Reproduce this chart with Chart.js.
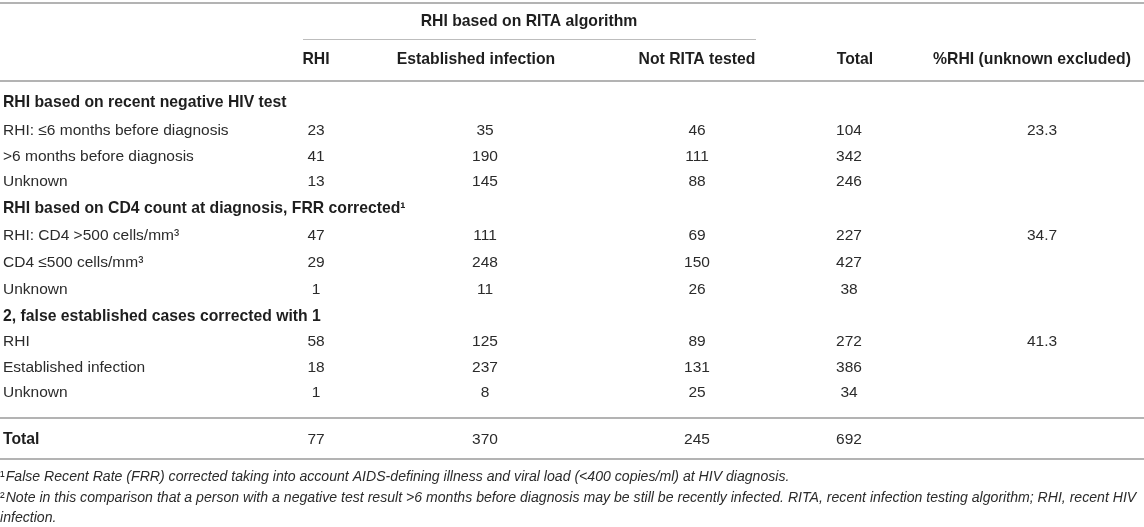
<!DOCTYPE html>
<html><head><meta charset="utf-8">
<script src="https://cdn.jsdelivr.net/npm/chart.js@4.4.1/dist/chart.umd.min.js"></script>
<style>html,body{margin:0;padding:0;background:#fff}#wrap{width:1144px;height:527px;position:relative}</style>
</head><body><div id="wrap"><canvas id="c"></canvas></div>
<script>
// ---------- DATA ----------
const spanHeader = "RHI based on RITA algorithm";
const columnHeaders = ["RHI", "Established infection", "Not RITA tested", "Total", "%RHI (unknown excluded)"];
const sectionTitles = [
  "RHI based on recent negative HIV test",
  "RHI based on CD4 count at diagnosis, FRR corrected\u00B9",
  "2, false established cases corrected with 1"
];
const rowLabels = [
  "RHI: \u22646 months before diagnosis", ">6 months before diagnosis", "Unknown",
  "RHI: CD4 >500 cells/mm\u00B3", "CD4 \u2264500 cells/mm\u00B3", "Unknown",
  "RHI", "Established infection", "Unknown"
];
const rhiValues         = [23, 41, 13, 47, 29, 1, 58, 18, 1];
const establishedValues = [35, 190, 145, 111, 248, 11, 125, 237, 8];
const notTestedValues   = [46, 111, 88, 69, 150, 26, 89, 131, 25];
const totalValues       = [104, 342, 246, 227, 427, 38, 272, 386, 34];
const pctRHIValues      = [23.3, null, null, 34.7, null, null, 41.3, null, null];
const grandTotalLabel = "Total";
const grandTotals = [77, 370, 245, 692];
const footnoteLines = [
  "\u00B9False Recent Rate (FRR) corrected taking into account AIDS-defining illness and viral load (<400 copies/ml) at HIV diagnosis.",
  "\u00B2Note in this comparison that a person with a negative test result >6 months before diagnosis may be still be recently infected. RITA, recent infection testing algorithm; RHI, recent HIV",
  "infection."
];

// ---------- LAYOUT (scale units = canvas px) ----------
const LAYOUT = {
  labelX: 3,
  colX: [316, 485, 697, 849, 1042],
  headX: [316, 476, 697, 855, 1032],
  spanX: 529, spanY: 22,
  spanLine: [303, 756, 39],
  headY: 60,
  rules: [3, 81, 418, 459],
  sectionY: [103, 209, 317],
  rowY: [131, 157, 182, 236, 263, 290, 342, 368, 393],
  totalY: 440,
  footY: [477, 498, 518]
};
const FONT = "'Liberation Sans', Arial, Helvetica, sans-serif";
const BOLD = "bold 15.75px " + FONT;
const REG = "15.5px " + FONT;
const FOOT = "14.1px " + FONT;

const tablePlugin = {
  id: 'tablePlugin',
  afterDraw(chart) {
    const ctx = chart.ctx, sx = chart.scales.x, sy = chart.scales.y;
    const X = v => sx.getPixelForValue(v), Y = v => sy.getPixelForValue(v);
    ctx.save();
    // rules
    ctx.strokeStyle = '#b3b3b3';
    ctx.lineWidth = 2;
    LAYOUT.rules.forEach(r => { ctx.beginPath(); ctx.moveTo(X(0), Y(r)); ctx.lineTo(X(1144), Y(r)); ctx.stroke(); });
    ctx.lineWidth = 1; ctx.strokeStyle = '#bdbdbd';
    ctx.beginPath(); ctx.moveTo(X(LAYOUT.spanLine[0]), Y(LAYOUT.spanLine[2]) + 0.5); ctx.lineTo(X(LAYOUT.spanLine[1]), Y(LAYOUT.spanLine[2]) + 0.5); ctx.stroke();

    ctx.textBaseline = 'middle';
    // headers
    ctx.fillStyle = '#1e1e1e';
    ctx.font = BOLD;
    ctx.textAlign = 'center';
    ctx.fillText(spanHeader, X(LAYOUT.spanX), Y(LAYOUT.spanY));
    columnHeaders.forEach((h, i) => ctx.fillText(h, X(LAYOUT.headX[i]), Y(LAYOUT.headY)));
    ctx.textAlign = 'left';
    sectionTitles.forEach((t, i) => ctx.fillText(t, X(LAYOUT.labelX), Y(LAYOUT.sectionY[i])));
    ctx.fillText(grandTotalLabel, X(LAYOUT.labelX), Y(LAYOUT.totalY));

    // body
    ctx.fillStyle = '#2b2b2b';
    ctx.font = REG;
    rowLabels.forEach((l, i) => ctx.fillText(l, X(LAYOUT.labelX), Y(LAYOUT.rowY[i])));
    ctx.textAlign = 'center';
    const cols = [rhiValues, establishedValues, notTestedValues, totalValues, pctRHIValues];
    cols.forEach((arr, c) => arr.forEach((v, r) => {
      if (v === null) return;
      const s = c === 4 ? v.toFixed(1) : String(v);
      ctx.fillText(s, X(LAYOUT.colX[c]), Y(LAYOUT.rowY[r]));
    }));
    grandTotals.forEach((v, c) => ctx.fillText(String(v), X(LAYOUT.colX[c]), Y(LAYOUT.totalY)));

    // footnotes
    ctx.textAlign = 'left';
    footnoteLines.forEach((line, i) => {
      let x = X(0), y = Y(LAYOUT.footY[i]);
      let txt = line;
      if (/^[\u00B9\u00B2]/.test(txt)) {
        ctx.font = FOOT;
        ctx.fillText(txt[0], x, y);
        x += ctx.measureText(txt[0]).width + 1;
        txt = txt.slice(1);
      }
      ctx.font = "italic " + FOOT;
      ctx.fillText(txt, x, y);
    });
    ctx.restore();
  }
};

new Chart(document.getElementById('c'), {
  type: 'scatter',
  data: { datasets: [{ data: [], pointRadius: 0 }] },
  options: {
    responsive: true, maintainAspectRatio: false, animation: false,
    layout: { padding: 0 },
    plugins: { legend: { display: false }, tooltip: { enabled: false } },
    scales: {
      x: { type: 'linear', min: 0, max: 1144, display: false },
      y: { type: 'linear', min: 0, max: 527, reverse: true, display: false }
    }
  },
  plugins: [tablePlugin]
});
</script>
</body></html>
